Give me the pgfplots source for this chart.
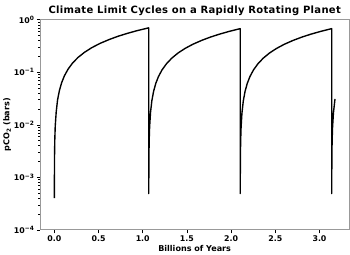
\documentclass[border=0pt]{standalone}
\usepackage{fontspec}
\setmainfont{DejaVu Sans}
\newfontfamily\titlefont[LetterSpace=3]{DejaVu Sans}
\usepackage{pgfplots}
\pgfplotsset{compat=1.18}
\begin{document}
\begin{tikzpicture}
\begin{axis}[
  name=ax,
  scale only axis,
  width=313bp, height=213bp,
  ymode=log,
  xmin=-0.159, xmax=3.334,
  ymin=1e-4, ymax=1,
  axis line style={gray!80, line width=0.7bp},
  tick style={black, line width=0.5bp},
  tick align=outside,
  major tick length=3.5bp,
  minor tick length=2bp,
  xtick={0,0.5,1,1.5,2,2.5,3},
  xticklabels={0.0,0.5,1.0,1.5,2.0,2.5,3.0},
  ytick={1e-4,1e-3,1e-2,1e-1,1},
  yticklabels={10\textsuperscript{−4},10\textsuperscript{−3},10\textsuperscript{−2},10\textsuperscript{−1},10\textsuperscript{0}},
  xtick pos=bottom, ytick pos=left,
  xticklabel style={font=\fontsize{8}{9}\selectfont\bfseries, yshift=1bp},
  yticklabel style={font=\fontsize{8}{9}\selectfont\bfseries, xshift=1bp},
  /pgf/number format/assume math mode=true,
  title={Climate Limit Cycles on a Rapidly Rotating Planet},
  title style={font=\titlefont\fontsize{10.2}{12}\selectfont\bfseries, yshift=-5bp},
  xlabel={Billions of Years},
  ylabel={pCO\textsubscript{2} (bars)},
  label style={font=\fontsize{8.2}{9}\selectfont\bfseries},
  xlabel style={yshift=3bp},
  ylabel style={yshift=-4bp},
]
\addplot[black, line width=1.4bp, line join=round] coordinates {
(0,4.0e-4) (0.002,0.0024) (0.005,0.0051) (0.010,0.0093) (0.021,0.0175) (0.036,0.0294)
(0.057,0.0447) (0.083,0.0636) (0.114,0.0855) (0.155,0.1143) (0.206,0.1496) (0.268,0.1915)
(0.341,0.2395) (0.423,0.2935) (0.516,0.3536) (0.619,0.419) (0.722,0.485) (0.826,0.5499)
(0.929,0.6144) (1.032,0.678) (1.068,0.700)
(1.068,4.9e-4) (1.070,0.0024) (1.073,0.0050) (1.078,0.0091) (1.088,0.0170) (1.103,0.0285)
(1.123,0.0433) (1.148,0.0615) (1.178,0.0827) (1.218,0.1105) (1.268,0.1446) (1.328,0.185)
(1.398,0.2314) (1.478,0.2836) (1.568,0.3416) (1.668,0.405) (1.768,0.4685) (1.868,0.531)
(1.968,0.593) (2.068,0.655) (2.103,0.6765)
(2.103,4.9e-4) (2.105,0.0024) (2.108,0.0050) (2.113,0.0091) (2.123,0.0170) (2.138,0.0285)
(2.158,0.0433) (2.183,0.0615) (2.213,0.0827) (2.253,0.1105) (2.303,0.1446) (2.363,0.185)
(2.433,0.2314) (2.513,0.2836) (2.603,0.3416) (2.703,0.405) (2.803,0.4685) (2.903,0.531)
(3.003,0.593) (3.103,0.655) (3.138,0.6765)
(3.138,4.9e-4) (3.140,0.0024) (3.143,0.0050) (3.148,0.0091) (3.158,0.0170) (3.173,0.0285) (3.176,0.031)
};
\end{axis}
\useasboundingbox ([xshift=-36bp,yshift=-21bp]ax.south west) rectangle ([xshift=1bp,yshift=20bp]ax.north east);
\end{tikzpicture}
\end{document}
